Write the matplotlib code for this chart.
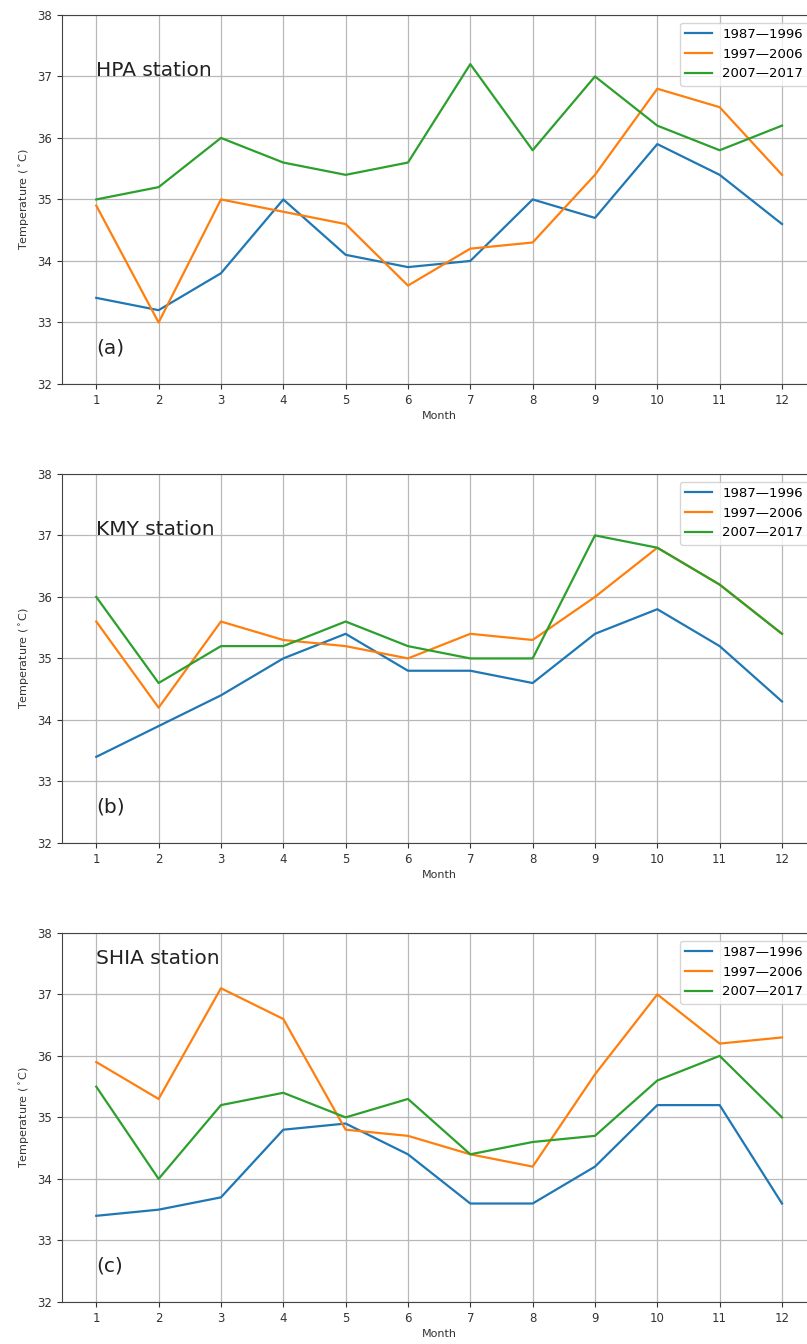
import numpy as np
import matplotlib.pyplot as plt

months = np.arange(1, 13)
periods = ['1987\u20141996', '1997\u20142006', '2007\u20142017']

# monthly maximum temperature per decade, one list per station
hpa_8796 = [33.4, 33.2, 33.8, 35.0, 34.1, 33.9, 34.0, 35.0, 34.7, 35.9, 35.4, 34.6]
hpa_9706 = [34.9, 33.0, 35.0, 34.8, 34.6, 33.6, 34.2, 34.3, 35.4, 36.8, 36.5, 35.4]
hpa_0717 = [35.0, 35.2, 36.0, 35.6, 35.4, 35.6, 37.2, 35.8, 37.0, 36.2, 35.8, 36.2]

kmy_8796 = [33.4, 33.9, 34.4, 35.0, 35.4, 34.8, 34.8, 34.6, 35.4, 35.8, 35.2, 34.3]
kmy_9706 = [35.6, 34.2, 35.6, 35.3, 35.2, 35.0, 35.4, 35.3, 36.0, 36.8, 36.2, 35.4]
kmy_0717 = [36.0, 34.6, 35.2, 35.2, 35.6, 35.2, 35.0, 35.0, 37.0, 36.8, 36.2, 35.4]

shia_8796 = [33.4, 33.5, 33.7, 34.8, 34.9, 34.4, 33.6, 33.6, 34.2, 35.2, 35.2, 33.6]
shia_9706 = [35.9, 35.3, 37.1, 36.6, 34.8, 34.7, 34.4, 34.2, 35.7, 37.0, 36.2, 36.3]
shia_0717 = [35.5, 34.0, 35.2, 35.4, 35.0, 35.3, 34.4, 34.6, 34.7, 35.6, 36.0, 35.0]

stations = ['HPA station', 'KMY station', 'SHIA station']
panel_tags = ['(a)', '(b)', '(c)']
station_data = [
    [hpa_8796, hpa_9706, hpa_0717],
    [kmy_8796, kmy_9706, kmy_0717],
    [shia_8796, shia_9706, shia_0717],
]
name_y = [37.0, 37.0, 37.5]

fig = plt.figure(figsize=(8.07, 13.44), dpi=100)

# axes run slightly past the right edge of the figure
bottoms = [0.7143, 0.3728, 0.0313]
for k in range(3):
    ax = fig.add_axes([0.0768, bottoms[k], 0.9347, 0.2746])
    for series, lab in zip(station_data[k], periods):
        ax.plot(months, series, label=lab, lw=1.6)
    ax.set_xlim(0.45, 12.55)
    ax.set_ylim(32, 38)
    ax.set_xticks(months)
    ax.set_yticks(np.arange(32, 39, 1))
    ax.tick_params(labelsize=8.5, colors='#333333')
    ax.grid(True, color='#b8b8b8', lw=0.9)
    for sp in ax.spines.values():
        sp.set_color('#444444')
    ax.set_xlabel('Month', fontsize=8, color='#333333', labelpad=3)
    ax.set_ylabel('Temperature ($^\\circ$C)', fontsize=8, color='#333333')
    ax.text(1, name_y[k], stations[k], fontsize=14.5, color='#222222',
            ha='left', va='baseline')
    ax.text(1, 32.5, panel_tags[k], fontsize=14.5, color='#222222',
            ha='left', va='baseline')
    ax.legend(loc='upper right', fontsize=9.5, borderaxespad=0.6)

fig.savefig('out.png', dpi=100)
